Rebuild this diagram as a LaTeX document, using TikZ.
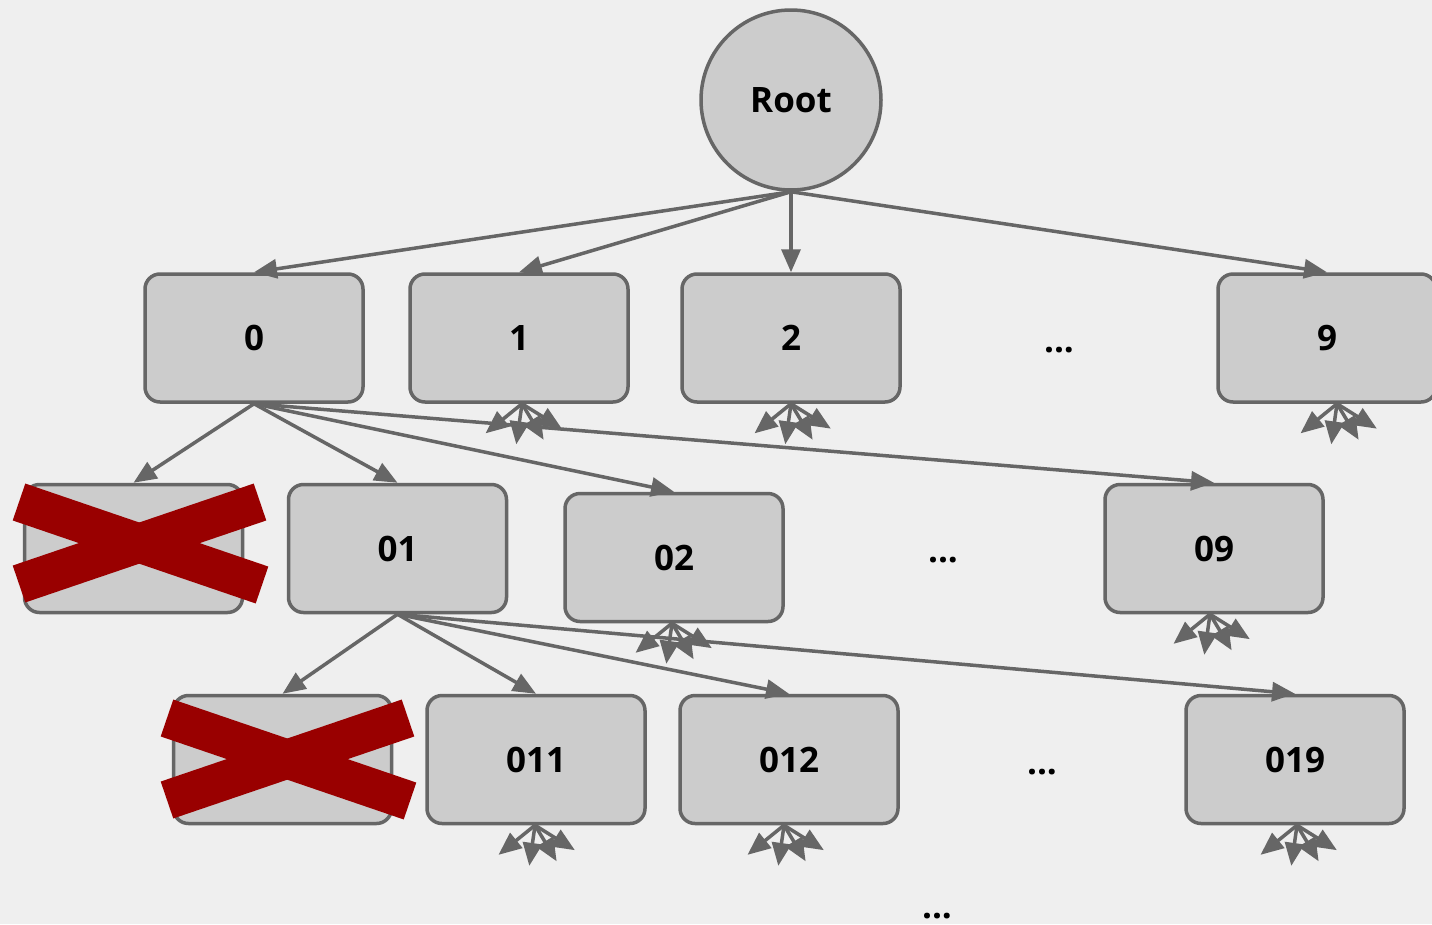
\documentclass[tikz,border=0pt]{standalone}
\usepackage{fontspec}
\setmainfont{Open Sans}
\usetikzlibrary{arrows.meta}
\definecolor{bg}{HTML}{EFEFEF}
\definecolor{boxfill}{HTML}{CCCCCC}
\definecolor{edge}{HTML}{666666}
\definecolor{crossred}{HTML}{990000}
\begin{document}
\begin{tikzpicture}[x=1pt,y=-1pt,
  box/.style={draw=edge,fill=boxfill,line width=3.5pt,rounded corners=15pt,
    minimum width=218pt,minimum height=128pt,inner sep=0pt,
    font=\fontsize{35}{40}\selectfont\bfseries},
  rootnode/.style={draw=edge,fill=boxfill,line width=3.5pt,circle,
    minimum size=180pt,inner sep=0pt,font=\fontsize{35}{40}\selectfont\bfseries},
  dots/.style={anchor=base,inner sep=0pt,font=\fontsize{35}{40}\selectfont\bfseries},
  arr/.style={draw=edge,line width=3.5pt,-{Triangle[length=23pt,width=19pt]}},
  crossline/.style={draw=crossred,line width=39pt,line cap=butt},
]
\useasboundingbox[fill=bg] (0,0) rectangle (1432,924);

% nodes
\node[rootnode] (root) at (791,100) {Root};
\node[box] (n0) at (254,338) {0};
\node[box] (n1) at (519,338) {1};
\node[box] (n2) at (791,338) {2};
\node[box] (n9) at (1327,338) {9};
\node[dots] (d1) at (1059,352) {...};

\node[box] (x1) at (133.5,548.5) {};
\node[box] (n01) at (397.5,548.5) {01};
\node[box] (n02) at (674,557.5) {02};
\node[box] (n09) at (1214,548.5) {09};
\node[dots] (d2) at (943,562) {...};

\node[box] (x2) at (282.5,759.5) {};
\node[box] (n011) at (536,759.5) {011};
\node[box] (n012) at (789,759.5) {012};
\node[box] (n019) at (1295,759.5) {019};
\node[dots] (d3) at (1042,774) {...};
\node[dots] (d4) at (937,918) {...};

% connectors from root
\draw[arr] (root.south) -- (n0.north);
\draw[arr] (root.south) -- (n1.north);
\draw[arr] (root.south) -- (n2.north);
\draw[arr] (root.south) -- (n9.north);

% from 0
\draw[arr] (n0.south) -- (x1.north);
\draw[arr] (n0.south) -- (n01.north);
\draw[arr] (n0.south) -- (n02.north);
\draw[arr] (n0.south) -- (n09.north);

% from 01
\draw[arr] (n01.south) -- (x2.north);
\draw[arr] (n01.south) -- (n011.north);
\draw[arr] (n01.south) -- (n012.north);
\draw[arr] (n01.south) -- (n019.north);

% stub fans
\foreach \nd/\dx in {n1/3,n2/0,n9/10,n02/-2,n09/-4,n011/-1,n012/-5,n019/2}{
  \coordinate (\nd-s) at ([xshift=\dx pt]\nd.south);
  \draw[arr] (\nd-s) -- ++(141:47);
  \draw[arr] (\nd-s) -- ++(98:41);
  \draw[arr] (\nd-s) -- ++(59:42);
  \draw[arr] (\nd-s) -- ++(32:47);
}

% crosses
\draw[crossline] (19,502) -- (262,585);
\draw[crossline] (19,584) -- (260,502);
\draw[crossline] (167,718) -- (410,801);
\draw[crossline] (167,800) -- (408,718);
\end{tikzpicture}
\end{document}
